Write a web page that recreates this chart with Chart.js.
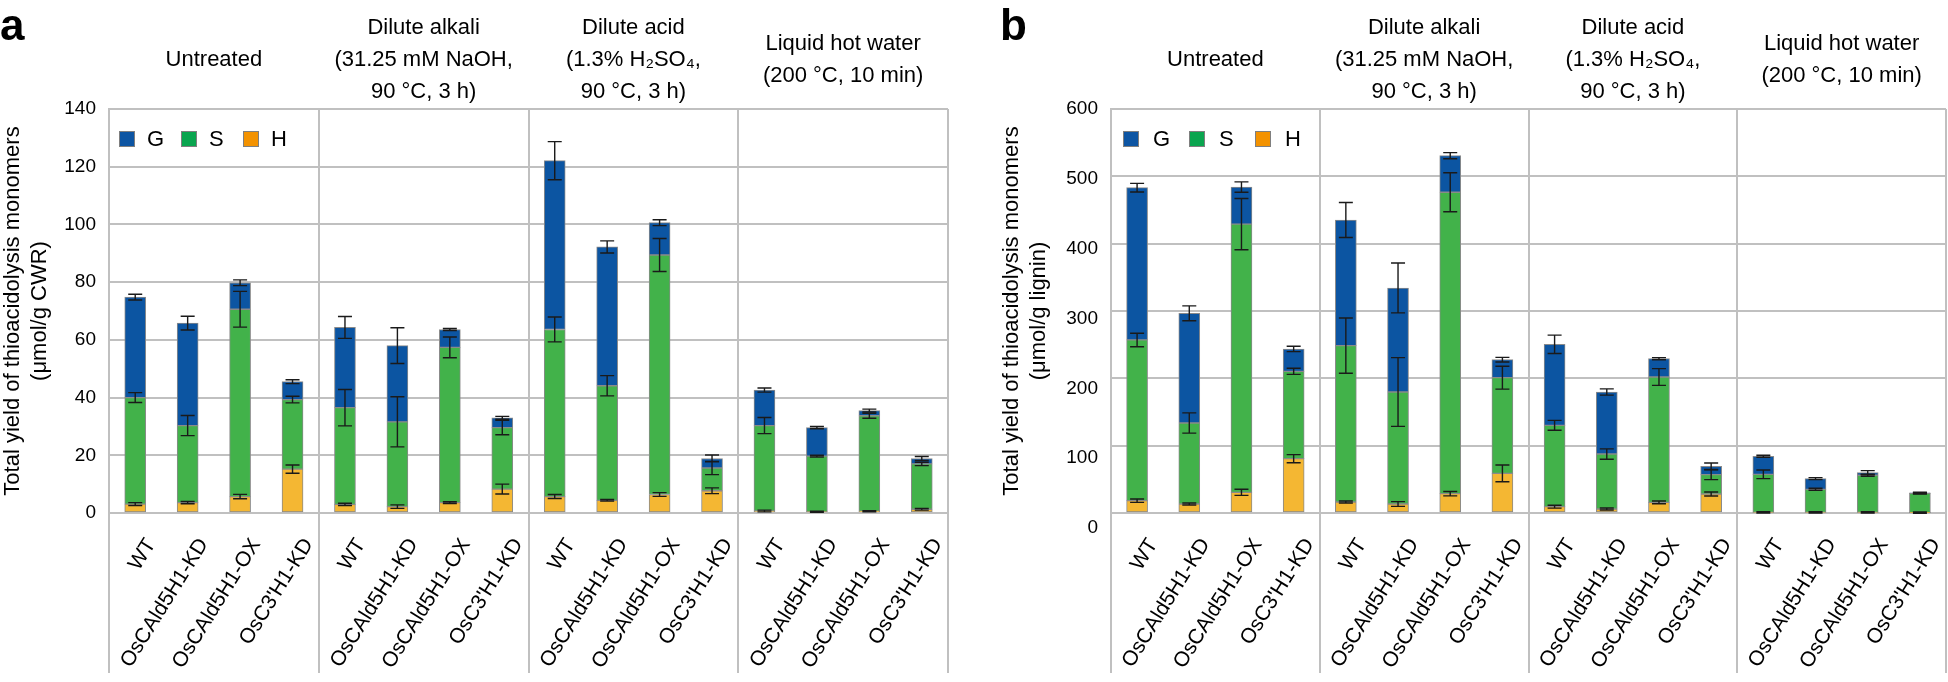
<!DOCTYPE html>
<html><head><meta charset="utf-8">
<script src="https://cdn.jsdelivr.net/npm/chart.js@4"></script>
<style>
html,body{margin:0;padding:0;background:#fff;}
#wrap{position:relative;width:1948px;height:682px;overflow:hidden;background:#fff;}
canvas{position:absolute;top:0;}
#ca{left:0;} #cb{left:974px;}
</style></head><body>
<div id="wrap"><canvas id="ca" width="974" height="682"></canvas><canvas id="cb" width="974" height="682"></canvas></div>
<script>
// ---------- data ----------
const genotypes = ['WT', 'OsCAld5H1-KD', 'OsCAld5H1-OX', "OsC3'H1-KD"];
const pretreatments = [
  ['Untreated'],
  ['Dilute alkali', '(31.25 mM NaOH,', '90 °C, 3 h)'],
  ['Dilute acid', '(1.3% H₂SO₄,', '90 °C, 3 h)'],
  ['Liquid hot water', '(200 °C, 10 min)']
];
const categories = pretreatments.flatMap(() => genotypes);
const seriesNames = ['G', 'S', 'H'];

// Panel a: µmol/g CWR (segment values; stacked H, then S, then G)
const aH = [3.1, 3.6, 5.7, 15.2, 3.0, 2.2, 3.6, 8.3, 5.7, 4.4, 6.4, 7.7, 0.7, 0.4, 0.6, 1.3];
const aS = [36.9, 26.7, 64.9, 24.1, 33.5, 29.4, 53.8, 21.3, 57.9, 39.7, 83.0, 7.9, 29.6, 19.3, 33.1, 15.7];
const aG = [34.8, 35.5, 9.2, 6.2, 27.8, 26.4, 6.2, 3.4, 58.5, 48.1, 11.2, 3.3, 12.3, 9.9, 1.8, 1.9];
const aHerr = [0.5, 0.4, 0.75, 1.45, 0.4, 0.6, 0.3, 1.7, 0.7, 0.3, 0.65, 1.0, 0.3, 0.2, 0.2, 0.3];
const aSerr = [1.7, 3.5, 6.2, 1.15, 6.3, 8.7, 3.6, 2.5, 4.3, 3.5, 5.7, 2.3, 2.8, 0.3, 0.85, 0.6];
const aGerr = [1.0, 2.4, 1.0, 0.65, 3.8, 6.2, 0.35, 0.5, 6.6, 2.1, 1.0, 1.2, 0.7, 0.4, 0.5, 0.7];
const aTicks = [0, 20, 40, 60, 80, 100, 120, 140];

// Panel b: µmol/g lignin
const bH = [18.3, 13.4, 30.7, 80.7, 16.3, 13.4, 28.7, 58.9, 9.4, 5.9, 15.8, 28.2, 0.8, 0.8, 0.8, 0.5];
const bS = [238.7, 120.3, 398.3, 129.7, 232.2, 166.3, 447.6, 142.1, 120.8, 81.7, 186.2, 28.8, 56.6, 34.4, 55.2, 28.7];
const bG = [226.2, 162.9, 55.0, 33.2, 186.7, 154.5, 54.4, 26.7, 120.3, 92.1, 27.2, 12.3, 26.8, 15.8, 3.9, 0.6];
const bHerr = [2.5, 1.5, 4.5, 6, 1.5, 3.5, 3.2, 12.4, 2.2, 1.5, 2, 3, 1, 1, 1, 1];
const bSerr = [10, 15, 38, 4.5, 41, 51, 29, 17, 7.4, 7.7, 12.4, 7.5, 6.4, 1.5, 1.5, 1];
const bGerr = [6.4, 11, 7.7, 4, 26, 37, 4.5, 3.5, 13.6, 4.7, 1.5, 5, 1.5, 1.5, 3, 1];
const bTicks = [0, 100, 200, 300, 400, 500, 600];

// ---------- styling ----------
const FONT = '"Liberation Sans", Arial, Helvetica, sans-serif';
Chart.defaults.font.family = FONT;
Chart.defaults.color = '#000';
const GRID = '#c0c0c0';
const COLORS = { G: '#0c55a2', S: '#42b24a', H: '#f4b733' };
const LEGEND_COLORS = { G: '#0d55a3', S: '#0aa54f', H: '#f39200' };

// ---------- plugins ----------
const errorBars = {
  id: 'errorBars',
  afterDatasetsDraw(chart) {
    const ctx = chart.ctx, ys = chart.scales.y;
    ctx.save();
    ctx.strokeStyle = '#1a1a1a';
    ctx.lineWidth = 1.4;
    chart.data.datasets.forEach((ds, di) => {
      const meta = chart.getDatasetMeta(di);
      meta.data.forEach((bar, i) => {
        const e = ds.errors[i];
        if (e == null) return;
        const d = Math.abs(ys.getPixelForValue(0) - ys.getPixelForValue(e));
        const x = bar.x, y = bar.y, cw = 7;
        ctx.beginPath();
        ctx.moveTo(x, y - d); ctx.lineTo(x, y + d);
        ctx.moveTo(x - cw, y - d); ctx.lineTo(x + cw, y - d);
        ctx.moveTo(x - cw, y + d); ctx.lineTo(x + cw, y + d);
        ctx.stroke();
      });
    });
    ctx.restore();
  }
};

const labelShift = {
  id: 'labelShift',
  beforeDraw(chart, args, opts) {
    const xs = chart.scales.x, ys = chart.scales.y;
    xs.getLabelItems().forEach(it => {
      if (it._shifted) return;
      it.options.translation[0] += opts.dx || 0;
      it.options.translation[1] += opts.dy || 0;
      it._shifted = true;
    });
    ys.getLabelItems().forEach(it => {
      if (it._shifted) return;
      const t = it.options.translation;
      t[1] += (t[1] - ys.top) / (ys.bottom - ys.top) * (opts.yStretch || 0);
      it._shifted = true;
    });
  }
};

const decorations = {
  id: 'decorations',
  afterDraw(chart, args, opts) {
    const ctx = chart.ctx, xs = chart.scales.x, area = chart.chartArea;
    ctx.save();
    // panel letter
    ctx.fillStyle = '#000';
    ctx.font = 'bold 44px ' + FONT;
    ctx.textAlign = 'left';
    ctx.textBaseline = 'alphabetic';
    ctx.fillText(opts.letter, opts.letterX, 40);
    // pretreatment titles over each group
    ctx.font = '22px ' + FONT;
    ctx.textAlign = 'center';
    ctx.textBaseline = 'middle';
    const n = genotypes.length;
    pretreatments.forEach((lines, g) => {
      const x = (xs.getPixelForValue(g * n) + xs.getPixelForValue(g * n + n - 1)) / 2;
      lines.forEach((ln, k) => {
        ctx.fillText(ln, x, 60 + (k - (lines.length - 1) / 2) * 32);
      });
    });
    // legend inside the plot area
    ctx.font = '22px ' + FONT;
    ctx.textAlign = 'left';
    const sq = 16, yTop = area.top + 22;
    seriesNames.forEach((name, k) => {
      const x0 = area.left + opts.legendX + k * opts.legendGap;
      ctx.fillStyle = LEGEND_COLORS[name];
      ctx.fillRect(x0, yTop, sq, sq);
      ctx.strokeStyle = '#7f7f7f';
      ctx.lineWidth = 1;
      ctx.strokeRect(x0 + 0.5, yTop + 0.5, sq - 1, sq - 1);
      ctx.fillStyle = '#000';
      ctx.fillText(name, x0 + opts.legendText, yTop + sq / 2 + 1);
    });
    ctx.restore();
  }
};

function makeChart(id, cfg) {
  const datasets = [
    { label: 'H', data: cfg.H, errors: cfg.Herr, backgroundColor: COLORS.H },
    { label: 'S', data: cfg.S, errors: cfg.Serr, backgroundColor: COLORS.S },
    { label: 'G', data: cfg.G, errors: cfg.Gerr, backgroundColor: COLORS.G }
  ].map(d => Object.assign(d, { borderColor: '#8a8a8a', borderWidth: 1, borderSkipped: false, barThickness: 21 }));
  const groupLine = c => (c.type !== 'tick' || c.index % genotypes.length === 0) ? GRID : 'rgba(0,0,0,0)';
  return new Chart(document.getElementById(id), {
    type: 'bar',
    data: { labels: categories, datasets },
    plugins: [errorBars, labelShift, decorations],
    options: {
      responsive: false,
      devicePixelRatio: 1,
      animation: false,
      layout: { padding: cfg.padding },
      plugins: {
        legend: { display: false },
        tooltip: { enabled: false },
        labelShift: { dx: 16, dy: 0, yStretch: cfg.yStretch },
        decorations: { letter: cfg.letter, letterX: cfg.letterX, legendX: cfg.legendX, legendGap: cfg.legendGap, legendText: cfg.legendText }
      },
      scales: {
        x: {
          stacked: true,
          offset: true,
          grid: { offset: true, color: groupLine, tickColor: groupLine, lineWidth: 2, drawTicks: true, tickLength: 160 },
          border: { display: true, color: GRID, width: 2 },
          ticks: { autoSkip: false, maxRotation: 58, minRotation: 58, padding: -139, font: { size: 21 }, color: '#000' },
          afterFit: s => { s.height = 169; }
        },
        y: {
          stacked: true,
          min: cfg.ticks[0],
          max: cfg.ticks[cfg.ticks.length - 1],
          afterBuildTicks: s => { s.ticks = cfg.ticks.map(v => ({ value: v })); },
          grid: { color: GRID, lineWidth: 2, drawTicks: false },
          border: { display: true, color: GRID, width: 2 },
          ticks: { padding: 13, font: { size: 19 }, color: '#000' },
          title: { display: true, text: cfg.title, font: { size: 22 }, color: '#000', padding: { top: 0, bottom: 0 } },
          afterFit: s => { s.width = cfg.yWidth; }
        }
      }
    }
  });
}

makeChart('ca', {
  H: aH, S: aS, G: aG, Herr: aHerr, Serr: aSerr, Gerr: aGerr, ticks: aTicks,
  title: ['Total yield of thioacidolysis monomers', '(μmol/g CWR)'],
  padding: { left: 0, top: 109, right: 26, bottom: 0 }, yWidth: 109, yStretch: 0,
  letter: 'a', letterX: 0, legendX: 10, legendGap: 62, legendText: 28
});
makeChart('cb', {
  H: bH, S: bS, G: bG, Herr: bHerr, Serr: bSerr, Gerr: bGerr, ticks: bTicks,
  title: ['Total yield of thioacidolysis monomers', '(μmol/g lignin)'],
  padding: { left: 25, top: 109, right: 2, bottom: 0 }, yWidth: 112, yStretch: 15,
  letter: 'b', letterX: 26, legendX: 12, legendGap: 66, legendText: 30
});
</script>
</body></html>
